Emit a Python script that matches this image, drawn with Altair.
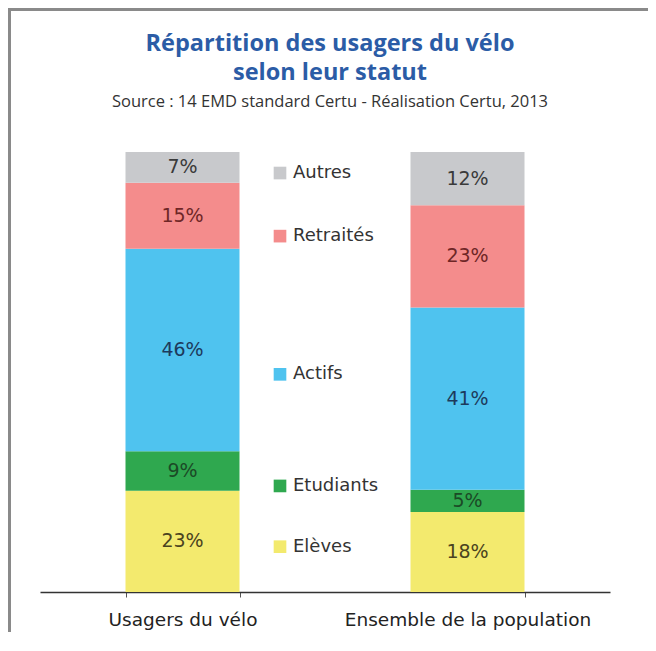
import altair as alt
import pandas as pd

categories = ["Usagers du vélo", "Ensemble de la population"]
statuts = ["Elèves", "Etudiants", "Actifs", "Retraités", "Autres"]
usagers_velo = [23, 9, 46, 15, 7]
ensemble_population = [18, 5, 41, 23, 12]

bar_colors = ["#f3ea6e", "#2fa84f", "#4fc3ef", "#f48c8c", "#c8c9cc"]
label_colors = ["#4a4320", "#1b4a26", "#1d3a5c", "#6e2626", "#3a3a3a"]

rows = []
for cat, vals in zip(categories, [usagers_velo, ensemble_population]):
    for i, (s, v) in enumerate(zip(statuts, vals)):
        rows.append({"cat": cat, "statut": s, "value": v, "order": i,
                     "label": f"{v}%"})
df = pd.DataFrame(rows)

color_scale = alt.Scale(domain=statuts, range=bar_colors)
label_scale = alt.Scale(domain=statuts, range=label_colors)

base = alt.Chart(df).transform_stack(
    stack="value", groupby=["cat"], sort=[alt.SortField("order", order="ascending")],
    as_=["y0", "y1"], offset="normalize"
).transform_calculate(mid="(datum.y0 + datum.y1) / 2")

x_enc = alt.X("cat:N", sort=categories, title=None,
              scale=alt.Scale(paddingInner=0.6, paddingOuter=0.3),
              axis=alt.Axis(labelAngle=0, labelFont="DejaVu Sans", labelFontSize=18.5,
                            labelColor="#222", domainColor="#333", domainWidth=1.5,
                            tickColor="#555", tickSize=5, tickBand="extent",
                            labelPadding=13, labelLimit=400))
y_scale = alt.Scale(domain=[0, 1], nice=False)

bars = base.mark_bar().encode(
    x=x_enc,
    y=alt.Y("y0:Q", scale=y_scale, axis=None),
    y2="y1:Q",
    color=alt.Color("statut:N", scale=color_scale, legend=None),
)

labels = base.mark_text(font="DejaVu Sans", fontSize=19).encode(
    x=alt.X("cat:N", sort=categories),
    y=alt.Y("mid:Q", scale=y_scale),
    text="label:N",
    color=alt.Color("statut:N", scale=label_scale, legend=None),
)

leg_base = base.transform_aggregate(ymid="mean(mid)", groupby=["statut"])
leg_sq = leg_base.mark_square(size=160, opacity=1).encode(
    x=alt.value(240),
    y=alt.Y("ymid:Q", scale=y_scale),
    color=alt.Color("statut:N", scale=color_scale, legend=None),
)
leg_txt = leg_base.mark_text(align="left", font="DejaVu Sans", fontSize=18,
                             color="#333").encode(
    x=alt.value(253),
    y=alt.Y("ymid:Q", scale=y_scale),
    text="statut:N",
)

one = pd.DataFrame({"a": [0]})
frame_left = alt.Chart(one).mark_rule(color="#8a8a8a", strokeWidth=3).encode(
    x=alt.value(-30.5), y=alt.value(-144), y2=alt.value(520))
frame_top = alt.Chart(one).mark_rule(color="#8a8a8a", strokeWidth=3).encode(
    x=alt.value(-32), x2=alt.value(640), y=alt.value(-142.5))

chart = alt.layer(frame_left, frame_top, bars, labels, leg_sq, leg_txt).resolve_scale(
    color="independent"
).properties(
    width=570, height=440,
    background="white",
    autosize=alt.AutoSizeParams(type="none"),
    padding={"left": 32, "top": 144, "right": 38, "bottom": 40},
    title=alt.TitleParams(
        text=["Répartition des usagers du vélo", "selon leur statut"],
        subtitle="Source : 14 EMD standard Certu - Réalisation Certu, 2013",
        font="Open Sans", fontSize=23.5, fontWeight="bold", color="#2b5ca6",
        lineHeight=29, subtitleFont="Open Sans", subtitleFontSize=16.5,
        subtitleColor="#333", subtitlePadding=10, offset=-104, anchor="middle",
        frame="group", dx=5,
    ),
).configure_view(stroke=None)

chart.save("out.html", embed_options={"renderer": "svg", "actions": False})
